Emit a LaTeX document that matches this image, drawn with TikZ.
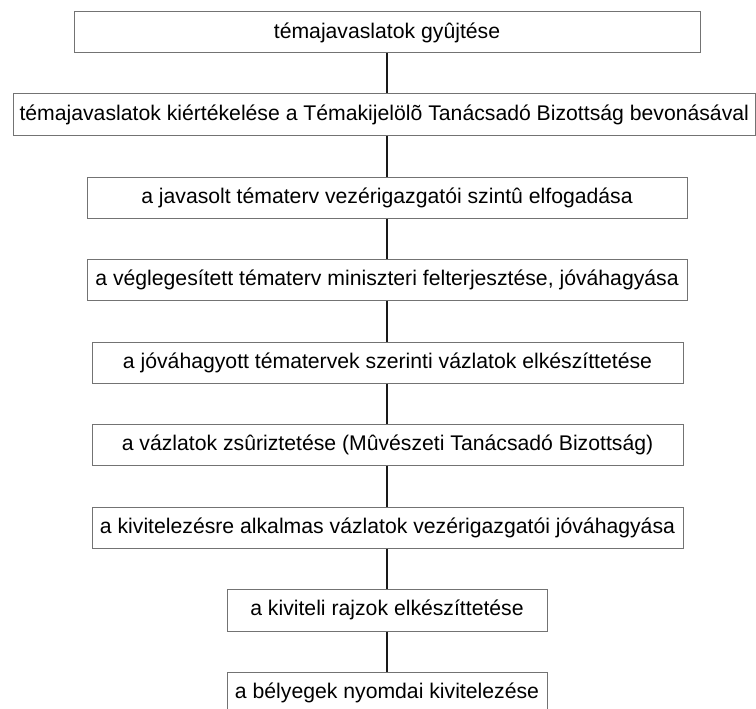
\documentclass[tikz,border=0pt]{standalone}
\usepackage{fontspec}
\setmainfont{Liberation Sans}
\begin{document}
\begin{tikzpicture}[x=1pt,y=-1pt,
  stepbox/.style={draw=black!55,line width=1pt,fill=white,inner sep=0pt,
    font=\fontsize{21.2}{25}\selectfont,text=black},
  link/.style={draw=black!90,line width=1.6pt}]
\useasboundingbox[fill=white] (0,0) rectangle (756,709);
\newcommand{\boxnode}[6]{%
  \node[stepbox,minimum width={#3-#2},minimum height={#5-#4}] (#1) at ({(#2+#3)/2},{(#4+#5)/2}) {#6};}
\boxnode{b1}{74}{700}{12}{53}{témajavaslatok gyûjtése}
\boxnode{b2}{13}{755.5}{94}{136}{témajavaslatok kiértékelése a Témakijelölõ Tanácsadó Bizottság bevonásával}
\boxnode{b3}{87}{687}{177}{218}{a javasolt tématerv vezérigazgatói szintû elfogadása}
\boxnode{b4}{87}{687}{259}{300}{a véglegesített tématerv miniszteri felterjesztése, jóváhagyása}
\boxnode{b5}{92}{683}{342}{383}{a jóváhagyott tématervek szerinti vázlatok elkészíttetése}
\boxnode{b6}{92}{683}{424}{465}{a vázlatok zsûriztetése (Mûvészeti Tanácsadó Bizottság)}
\boxnode{b7}{92}{683}{507}{548}{a kivitelezésre alkalmas vázlatok vezérigazgatói jóváhagyása}
\boxnode{b8}{227}{547}{589}{631}{a kiviteli rajzok elkészíttetése}
\boxnode{b9}{227}{547}{672}{713}{a bélyegek nyomdai kivitelezése}
\foreach \a/\b in {b1/b2,b2/b3,b3/b4,b4/b5,b5/b6,b6/b7,b7/b8,b8/b9}
  \draw[link] (387,0 |- \a.south) -- (387,0 |- \b.north);
\end{tikzpicture}
\end{document}
